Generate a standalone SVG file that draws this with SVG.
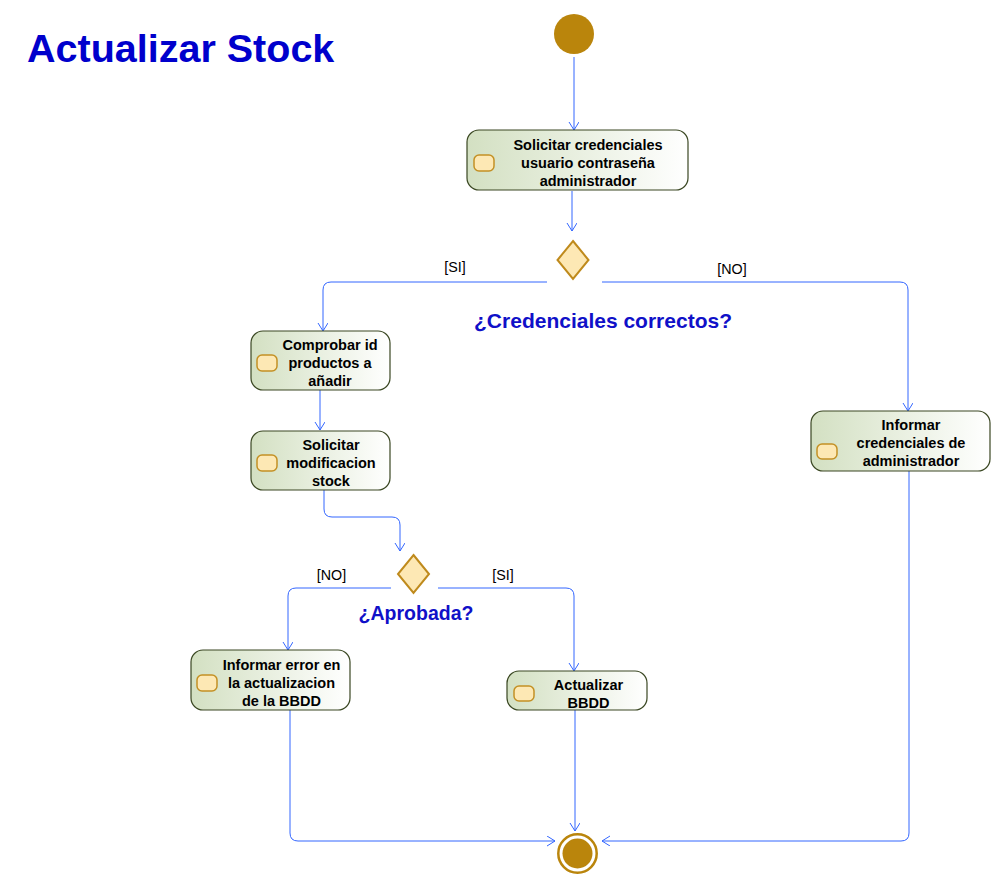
<svg xmlns="http://www.w3.org/2000/svg" width="1001" height="888" viewBox="0 0 1001 888">
<defs>
<linearGradient id="g" x1="0" y1="0" x2="1" y2="0">
<stop offset="0" stop-color="#d3e0c2"/>
<stop offset="1" stop-color="#ffffff"/>
</linearGradient>
<marker id="a" markerWidth="12" markerHeight="12" refX="8" refY="5" orient="auto" markerUnits="userSpaceOnUse">
<path d="M0,0 L8,5 L0,10" fill="none" stroke="#3366ff" stroke-width="1"/>
</marker>
</defs>
<style>
.box{fill:url(#g);stroke:#3a4722;stroke-width:1.2}
.ico{fill:#fde8b4;stroke:#c39024;stroke-width:1.5}
.t{font-family:"Liberation Sans",Arial,sans-serif;font-weight:bold;font-size:14.5px;fill:#000;text-anchor:middle}
.lbl{font-family:"Liberation Sans",Arial,sans-serif;font-size:14.3px;fill:#000;text-anchor:middle}
.q{font-family:"Liberation Sans",Arial,sans-serif;font-weight:bold;fill:#1010c8;text-anchor:middle}
.c{fill:none;stroke:#3366ff;stroke-width:1;marker-end:url(#a)}
.dia{fill:#fde8b4;stroke:#bf8a1c;stroke-width:2}
</style>
<rect width="1001" height="888" fill="#ffffff"/>
<text x="27" y="62" font-family="'Liberation Sans',Arial,sans-serif" font-weight="bold" font-size="39.5" fill="#0000cc">Actualizar Stock</text>

<g id="connectors">
<path class="c" d="M574,57 L574,130"/>
<path class="c" d="M572,191 L572,231"/>
<path class="c" d="M547,282 H331 Q323,282 323,290 V331"/>
<path class="c" d="M602,282 H900 Q908,282 908,290 V411"/>
<path class="c" d="M320,390 V430"/>
<path class="c" d="M324,490 V509 Q324,517 332,517 H392 Q400,517 400,525 V551"/>
<path class="c" d="M391,588 H296 Q288,588 288,596 V650"/>
<path class="c" d="M438,588 H566 Q574,588 574,596 V671"/>
<path class="c" d="M290,710 V833 Q290,841 298,841 H555"/>
<path class="c" d="M575,710 V831"/>
<path class="c" d="M909,471 V833 Q909,841 901,841 H602"/>
<text class="lbl" x="455" y="272">[SI]</text>
<text class="lbl" x="732" y="274">[NO]</text>
<text class="lbl" x="331.5" y="580">[NO]</text>
<text class="lbl" x="503" y="580">[SI]</text>
</g>

<g id="start">
<circle cx="574" cy="34" r="20" fill="#ba850c"/>
</g>

<g id="n1">
<rect class="box" x="467" y="130" width="221" height="60" rx="12"/>
<rect class="ico" x="474" y="155" width="20" height="16" rx="5"/>
<text class="t" x="588" y="150">Solicitar credenciales</text>
<text class="t" x="588" y="168">usuario contraseña</text>
<text class="t" x="588" y="186">administrador</text>
</g>

<g id="d1">
<polygon class="dia" points="573,241 588.5,260 573,279 557.5,260"/>
<text class="q" x="603" y="328" font-size="21">¿Credenciales correctos?</text>
</g>

<g id="n2">
<rect class="box" x="251" y="331" width="139" height="59" rx="12"/>
<rect class="ico" x="257" y="355" width="20" height="16" rx="5"/>
<text class="t" x="330" y="350">Comprobar id</text>
<text class="t" x="330" y="368">productos a</text>
<text class="t" x="330" y="386">añadir</text>
</g>

<g id="n3">
<rect class="box" x="251" y="431" width="139" height="59" rx="12"/>
<rect class="ico" x="257" y="455" width="20" height="16" rx="5"/>
<text class="t" x="331" y="450">Solicitar</text>
<text class="t" x="331" y="468">modificacion</text>
<text class="t" x="331" y="486">stock</text>
</g>

<g id="d2">
<polygon class="dia" points="413.5,555 429,574 413.5,593 398,574"/>
<text class="q" x="416" y="620" font-size="19.5">¿Aprobada?</text>
</g>

<g id="n4">
<rect class="box" x="191" y="650" width="159" height="60" rx="12"/>
<rect class="ico" x="197" y="675" width="20" height="16" rx="5"/>
<text class="t" x="281.5" y="670">Informar error en</text>
<text class="t" x="281.5" y="688">la actualizacion</text>
<text class="t" x="281.5" y="706">de la BBDD</text>
</g>

<g id="n5">
<rect class="box" x="507" y="671" width="140" height="39" rx="12"/>
<rect class="ico" x="514" y="686" width="20" height="15" rx="5"/>
<text class="t" x="588.5" y="690">Actualizar</text>
<text class="t" x="588.5" y="708">BBDD</text>
</g>

<g id="n6">
<rect class="box" x="811" y="411" width="179" height="60" rx="12"/>
<rect class="ico" x="817" y="444" width="20" height="15" rx="5"/>
<text class="t" x="911" y="430">Informar</text>
<text class="t" x="911" y="448">credenciales de</text>
<text class="t" x="911" y="466">administrador</text>
</g>

<g id="end">
<circle cx="577.5" cy="853.5" r="19.2" fill="none" stroke="#ba850c" stroke-width="2.5"/>
<circle cx="577.5" cy="853.5" r="15" fill="#ba850c"/>
</g>
</svg>
